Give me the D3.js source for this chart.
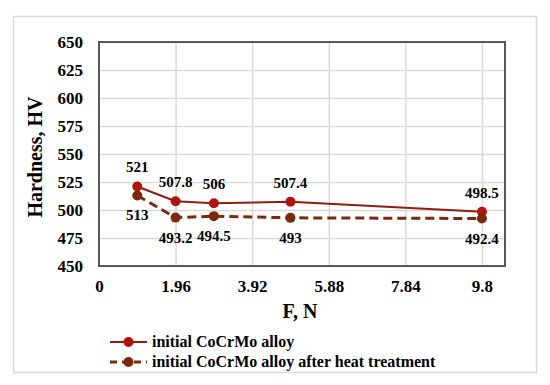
<!DOCTYPE html>
<html>
<head>
<meta charset="utf-8">
<script src="https://cdn.jsdelivr.net/npm/d3@7"></script>
<style>
  body { margin: 0; background: #fff; }
  text { font-family: "Liberation Serif", "Times New Roman", serif; font-weight: bold; fill: #000; }
</style>
</head>
<body>
<svg width="550" height="385"></svg>
<script>
// load values (N) and hardness readings
const force = [0.98, 1.96, 2.94, 4.9, 9.8];
const initial = [521, 507.8, 506, 507.4, 498.5];
const heatTreated = [513, 493.2, 494.5, 493, 492.4];
const xTicks = [0, 1.96, 3.92, 5.88, 7.84, 9.8];
const yTicks = [450, 475, 500, 525, 550, 575, 600, 625, 650];
const seriesNames = ["initial CoCrMo alloy", "initial CoCrMo alloy after heat treatment"];

let svg = d3.select("svg");
let margin = {top: 42, right: 45, bottom: 119, left: 99};
let width = +svg.attr("width") - margin.left - margin.right,
    height = +svg.attr("height") - margin.top - margin.bottom;

// outer chart frame
svg.append("rect")
  .attr("x", 13.5).attr("y", 16.5).attr("width", 523).attr("height", 356)
  .attr("fill", "none").attr("stroke", "#d9d9d9").attr("stroke-width", 1.5);

let x = d3.scaleLinear().domain([0, 10.39]).range([0, width]),
    y = d3.scaleLinear().domain([450, 650]).range([height, 0]);

let g = svg.append("g")
  .attr("transform", "translate(" + margin.left + "," + margin.top + ")");

// gridlines
g.append("g")
  .call(d3.axisLeft(y).tickValues(yTicks).tickSize(-width).tickFormat(""))
  .call(a => a.select(".domain").remove())
  .selectAll("line").attr("stroke", "#d9d9d9").attr("stroke-width", 1.5);

g.append("g")
  .attr("transform", "translate(0," + height + ")")
  .call(d3.axisBottom(x).tickValues(xTicks.slice(1)).tickSize(-height).tickFormat(""))
  .call(a => a.select(".domain").remove())
  .selectAll("line").attr("stroke", "#d9d9d9").attr("stroke-width", 1.5);

// tick labels
g.append("g")
  .call(d3.axisLeft(y).tickValues(yTicks).tickSize(0).tickPadding(16))
  .call(a => a.select(".domain").remove())
  .selectAll("text").attr("font-size", 17).attr("dy", "0.35em");

g.append("g")
  .attr("transform", "translate(0," + height + ")")
  .call(d3.axisBottom(x).tickValues(xTicks).tickSize(0).tickPadding(14).tickFormat(d => d))
  .call(a => a.select(".domain").remove())
  .selectAll("text").attr("font-size", 17);

// plot border
g.append("rect")
  .attr("width", width).attr("height", height)
  .attr("fill", "none").attr("stroke", "#595959").attr("stroke-width", 2);

// axis titles
svg.append("text")
  .attr("x", 300).attr("y", 318)
  .attr("text-anchor", "middle").attr("font-size", 20)
  .text("F, N");

svg.append("text")
  .attr("transform", "translate(42,157) rotate(-90)")
  .attr("text-anchor", "middle").attr("font-size", 20)
  .text("Hardness, HV");

let line = d3.line().x(d => x(d[0])).y(d => y(d[1]));

const series = [
  {vals: initial, stroke: "#8b1d12", fill: "#b3130e", dash: null, sw: 2, dy: -14},
  {vals: heatTreated, stroke: "#7a2a0c", fill: "#7a2a0c", dash: "9,5", sw: 3, dy: 25}
];

series.forEach(s => {
  let pts = force.map((f, i) => [f, s.vals[i]]);
  g.append("path")
    .datum(pts)
    .attr("d", line)
    .attr("fill", "none")
    .attr("stroke", s.stroke)
    .attr("stroke-width", s.sw)
    .attr("stroke-dasharray", s.dash);

  g.selectAll(null).data(pts).enter().append("circle")
    .attr("cx", d => x(d[0]))
    .attr("cy", d => y(d[1]))
    .attr("r", 5)
    .attr("fill", s.fill);

  g.selectAll(null).data(pts).enter().append("text")
    .attr("x", d => x(d[0]))
    .attr("y", d => y(d[1]) + s.dy)
    .attr("text-anchor", "middle")
    .attr("font-size", 15)
    .text(d => d[1]);
});

// legend
let legend = svg.append("g");
seriesNames.forEach((name, i) => {
  let s = series[i];
  let ly = 342 + i * 20;
  legend.append("line")
    .attr("x1", 110).attr("x2", 147).attr("y1", ly).attr("y2", ly)
    .attr("stroke", s.stroke).attr("stroke-width", s.sw)
    .attr("stroke-dasharray", s.dash ? "7,5" : null);
  legend.append("circle")
    .attr("cx", 128.5).attr("cy", ly).attr("r", 5).attr("fill", s.fill);
  legend.append("text")
    .attr("x", 152).attr("y", ly + 5)
    .attr("font-size", 16)
    .text(name);
});
</script>
</body>
</html>
